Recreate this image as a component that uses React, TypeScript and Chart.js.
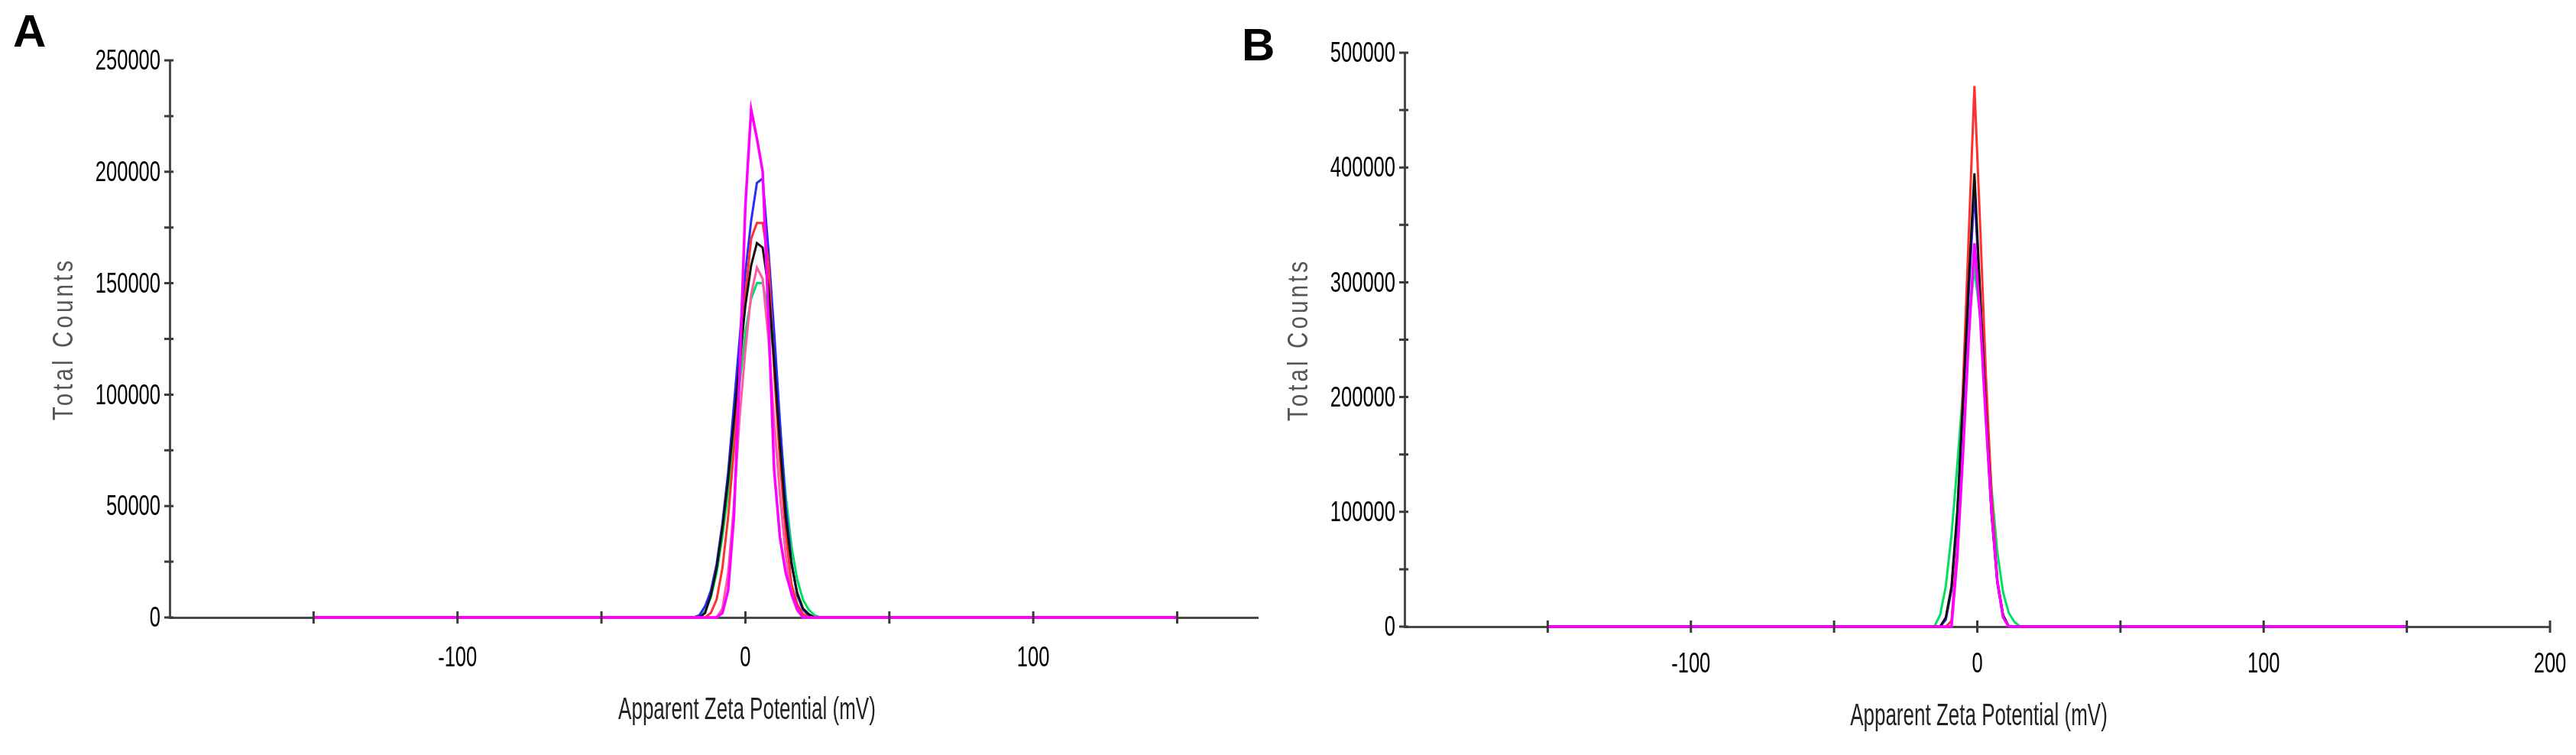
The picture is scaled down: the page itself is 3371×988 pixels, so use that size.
import React, { useEffect, useRef } from "react";
import { Chart, registerables } from "chart.js";
Chart.register(...registerables);

// ---------- Panel A data ----------
const xA = [-150, -18, -16, -14, -12, -10, -8, -6, -4, -2, 0, 2, 4, 6, 8, 10, 12, 14, 16, 18, 20, 22, 24, 26, 28, 150];
const magentaA = [0, 0, 0, 0, 0, 0, 2000, 12000, 45000, 110000, 185000, 228000, 215000, 200000, 135000, 66000, 36000, 20000, 11000, 4000, 0, 0, 0, 0, 0, 0];
const blueA = [0, 0, 1000, 5000, 12000, 24000, 42000, 65000, 95000, 125000, 155000, 178000, 195000, 197000, 165000, 128000, 88000, 50000, 25000, 10000, 3500, 800, 0, 0, 0, 0];
const redA = [0, 0, 0, 0, 2000, 8000, 22000, 45000, 75000, 110000, 145000, 170000, 177000, 177000, 160000, 110000, 70000, 38000, 15000, 6000, 1500, 0, 0, 0, 0, 0];
const blackA = [0, 0, 0, 2000, 10000, 22000, 40000, 62000, 88000, 115000, 140000, 158000, 168000, 166000, 148000, 115000, 78000, 45000, 24000, 11000, 4000, 1500, 0, 0, 0, 0];
const greenA = [0, 0, 0, 3000, 9000, 20000, 36000, 56000, 80000, 105000, 128000, 143000, 150000, 150000, 138000, 115000, 85000, 55000, 32000, 17000, 8000, 3500, 1000, 0, 0, 0];
const pinkA = [0, 0, 0, 0, 0, 0, 4000, 20000, 50000, 90000, 120000, 145000, 157000, 152000, 125000, 88000, 55000, 28000, 10000, 3000, 0, 0, 0, 0, 0, 0];
const xTicksA = [-150, -100, -50, 0, 50, 100, 150];
const xLabelsA = [-100, 0, 100];
const yTicksA = [0, 25000, 50000, 75000, 100000, 125000, 150000, 175000, 200000, 225000, 250000];
const yLabelsA = [0, 50000, 100000, 150000, 200000, 250000];

// ---------- Panel B data ----------
const xB = [-150, -17, -15, -13, -11, -9, -7, -5, -3, -1, 1, 3, 5, 7, 9, 11, 13, 15, 17, 150];
const magentaB = [0, 0, 0, 0, 0, 0, 60000, 150000, 250000, 334000, 270000, 180000, 100000, 40000, 8000, 0, 0, 0, 0, 0];
const redB = [0, 0, 0, 0, 0, 5000, 70000, 210000, 340000, 471000, 350000, 220000, 115000, 40000, 10000, 0, 0, 0, 0, 0];
const blackB = [0, 0, 0, 0, 8000, 35000, 100000, 195000, 300000, 395000, 290000, 190000, 100000, 40000, 10000, 0, 0, 0, 0, 0];
const blueB = [0, 0, 0, 0, 6000, 32000, 95000, 190000, 290000, 380000, 285000, 185000, 98000, 38000, 9000, 0, 0, 0, 0, 0];
const greenB = [0, 0, 0, 10000, 35000, 80000, 140000, 205000, 265000, 312000, 270000, 195000, 120000, 65000, 30000, 12000, 4000, 0, 0, 0];
const xTicksB = [-150, -100, -50, 0, 50, 100, 150, 200];
const xLabelsB = [-100, 0, 100, 200];
const yTicksB = [0, 50000, 100000, 150000, 200000, 250000, 300000, 350000, 400000, 450000, 500000];
const yLabelsB = [0, 100000, 200000, 300000, 400000, 500000];

const xTitle = "Apparent Zeta Potential (mV)";
const yTitle = "Total Counts";

const C = {
  magenta: "#ff00ff",
  blue: "#2a2aff",
  red: "#ff3030",
  black: "#111111",
  green: "#00e060",
  pink: "#ff5aa8",
};

function pts(xs: number[], ys: number[]) {
  return xs.map((x, i) => ({ x, y: ys[i] }));
}

type TextOpts = { font: string; color: string; align?: CanvasTextAlign; sx?: number; rotate?: number; ls?: string };
function drawText(ctx: CanvasRenderingContext2D, text: string, x: number, y: number, o: TextOpts) {
  ctx.save();
  ctx.translate(x, y);
  if (o.rotate) ctx.rotate(o.rotate);
  ctx.scale(o.sx ?? 1, 1);
  ctx.font = o.font;
  ctx.fillStyle = o.color;
  ctx.textAlign = o.align ?? "center";
  ctx.textBaseline = "middle";
  (ctx as any).letterSpacing = o.ls ?? "0px";
  ctx.fillText(text, 0, 0);
  (ctx as any).letterSpacing = "0px";
  ctx.restore();
}

type PanelCfg = {
  canvasLeft: number;
  width: number;
  padTop: number;
  padRight: number;
  yWidth: number;
  xHeight: number;
  xMin: number;
  xMax: number;
  yMax: number;
  xTicks: number[];
  xLabels: number[];
  yTicks: number[];
  yLabels: number[];
  xLabelOffset: number;
  xTitleY: number;
  letter: string;
  letterX: number;
  letterY: number;
  datasets: { data: { x: number; y: number }[]; color: string; width: number }[];
};

const FONT_FAMILY = "'Liberation Sans', Arial, sans-serif";

function makeChart(canvas: HTMLCanvasElement, cfg: PanelCfg) {
  const overlay = {
    id: "overlay" + cfg.letter,
    afterDraw(chart: any) {
      const ctx: CanvasRenderingContext2D = chart.ctx;
      const xs = chart.scales.x;
      const ys = chart.scales.y;
      const axisY = ys.getPixelForValue(0);
      const axisX = xs.left;
      ctx.save();
      ctx.strokeStyle = "#3a3a3a";
      ctx.lineWidth = 3;
      ctx.beginPath();
      for (const v of cfg.xTicks) {
        const px = xs.getPixelForValue(v);
        ctx.moveTo(px, axisY - 8);
        ctx.lineTo(px, axisY + 8);
      }
      for (const v of cfg.yTicks) {
        const py = ys.getPixelForValue(v);
        ctx.moveTo(axisX - 7, py);
        ctx.lineTo(axisX + 5, py);
      }
      ctx.stroke();
      ctx.restore();

      const tickFont = `37px ${FONT_FAMILY}`;
      for (const v of cfg.xLabels) {
        drawText(ctx, String(v), xs.getPixelForValue(v), axisY + cfg.xLabelOffset, {
          font: tickFont, color: "#000000", sx: 0.69,
        });
      }
      for (const v of cfg.yLabels) {
        drawText(ctx, String(v), axisX - 12, ys.getPixelForValue(v) + 2, {
          font: tickFont, color: "#000000", sx: 0.69, align: "right",
        });
      }
      drawText(ctx, xTitle, xs.getPixelForValue(0) + 2, cfg.xTitleY, {
        font: `40px ${FONT_FAMILY}`, color: "#222222", sx: 0.65,
      });
      drawText(ctx, yTitle, axisX - 137, (ys.top + ys.bottom) / 2, {
        font: `36px ${FONT_FAMILY}`, color: "#555555", sx: 0.82, rotate: -Math.PI / 2, ls: "5px",
      });
      drawText(ctx, cfg.letter, cfg.letterX, cfg.letterY, {
        font: `bold 60px ${FONT_FAMILY}`, color: "#000000", align: "left",
      });
    },
  };

  return new Chart(canvas, {
    type: "line",
    data: {
      datasets: cfg.datasets.map((d) => ({
        data: d.data,
        borderColor: d.color,
        backgroundColor: d.color,
        borderWidth: d.width,
        pointRadius: 0,
        tension: 0,
        fill: false,
        clip: false as any,
      })),
    },
    options: {
      animation: false,
      responsive: false,
      devicePixelRatio: 1,
      events: [],
      layout: { padding: { left: 0, top: cfg.padTop, right: cfg.padRight, bottom: 0 } },
      plugins: { legend: { display: false }, tooltip: { enabled: false }, title: { display: false } },
      scales: {
        x: {
          type: "linear",
          min: cfg.xMin,
          max: cfg.xMax,
          grid: { display: false },
          border: { display: true, color: "#4a4a4a", width: 3 },
          ticks: { display: false },
          afterFit: (s: any) => { s.height = cfg.xHeight; },
        },
        y: {
          type: "linear",
          min: 0,
          max: cfg.yMax,
          grid: { display: false },
          border: { display: true, color: "#4a4a4a", width: 3 },
          ticks: { display: false },
          afterFit: (s: any) => { s.width = cfg.yWidth; },
        },
      },
    },
    plugins: [overlay],
  } as any);
}

const cfgA: PanelCfg = {
  canvasLeft: 0,
  width: 1700,
  padTop: 79,
  padRight: 1700 - 1646,
  yWidth: 222,
  xHeight: 988 - 808,
  xMin: -200,
  xMax: 178,
  yMax: 250000,
  xTicks: xTicksA,
  xLabels: xLabelsA,
  yTicks: yTicksA,
  yLabels: yLabelsA,
  xLabelOffset: 54,
  xTitleY: 930,
  letter: "A",
  letterX: 17,
  letterY: 44,
  datasets: [
    { data: pts(xA, magentaA), color: C.magenta, width: 3.5 },
    { data: pts(xA, pinkA), color: C.pink, width: 3 },
    { data: pts(xA, blackA), color: C.black, width: 3 },
    { data: pts(xA, redA), color: C.red, width: 3 },
    { data: pts(xA, blueA), color: C.blue, width: 3 },
    { data: pts(xA, greenA), color: C.green, width: 3 },
  ],
};

const cfgB: PanelCfg = {
  canvasLeft: 1600,
  width: 1771,
  padTop: 69,
  padRight: 1771 - (3337 - 1600),
  yWidth: 1838 - 1600,
  xHeight: 988 - 820,
  xMin: -200,
  xMax: 200,
  yMax: 500000,
  xTicks: xTicksB,
  xLabels: xLabelsB,
  yTicks: yTicksB,
  yLabels: yLabelsB,
  xLabelOffset: 50,
  xTitleY: 938,
  letter: "B",
  letterX: 1625 - 1600,
  letterY: 62,
  datasets: [
    { data: pts(xB, magentaB), color: C.magenta, width: 3.5 },
    { data: pts(xB, blackB), color: C.black, width: 3 },
    { data: pts(xB, blueB), color: C.blue, width: 3 },
    { data: pts(xB, redB), color: C.red, width: 3 },
    { data: pts(xB, greenB), color: C.green, width: 3 },
  ],
};

function Panel({ cfg }: { cfg: PanelCfg }) {
  const ref = useRef<HTMLCanvasElement | null>(null);
  useEffect(() => {
    if (!ref.current) return;
    const chart = makeChart(ref.current, cfg);
    return () => chart.destroy();
  }, [cfg]);
  return (
    <canvas
      ref={ref}
      width={cfg.width}
      height={988}
      style={{ position: "absolute", left: cfg.canvasLeft, top: 0, width: cfg.width, height: 988 }}
    />
  );
}

export default function App() {
  return (
    <div style={{ position: "absolute", left: 0, top: 0, width: 3371, height: 988, background: "#ffffff" }}>
      <Panel cfg={cfgA} />
      <Panel cfg={cfgB} />
    </div>
  );
}
